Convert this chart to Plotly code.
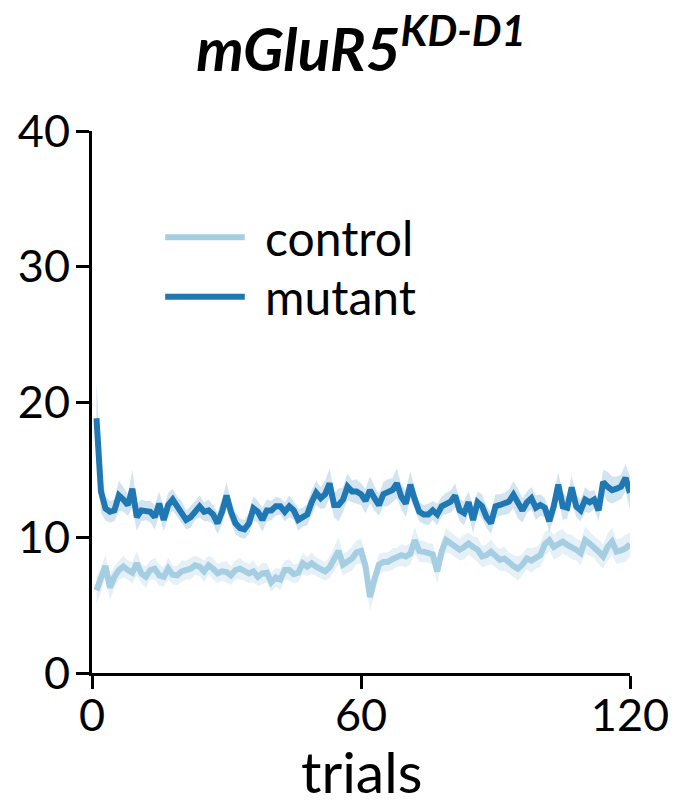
import plotly.graph_objects as go

# Trial numbers
trials = list(range(1, 121))

# Mean values per trial
control_mean = [
    6.1, 6.9, 7.9, 6.3, 7.1, 7.6, 7.85, 7.6, 7.4, 8.1,
    7.35, 7.1, 7.6, 7.7, 7.2, 7.1, 7.7, 7.25, 7.2, 7.5,
    7.6, 7.7, 7.95, 7.85, 7.5, 7.95, 7.7, 7.35, 7.5, 7.45,
    7.2, 7.6, 7.7, 7.5, 7.35, 7.5, 7.1, 7.35, 7.4, 6.7,
    7.05, 6.9, 7.6, 7.6, 7.3, 7.4, 8.1, 7.85, 8.1, 7.85,
    7.7, 7.5, 7.8, 8.4, 9.0, 8.0, 8.2, 8.45, 8.9, 9.0,
    7.9, 5.6, 6.9, 8.0, 8.2, 8.2, 8.4, 8.55, 8.7, 8.6,
    8.8, 9.8, 9.0, 8.95, 8.85, 8.75, 7.5, 9.0, 9.8, 9.6,
    9.35, 9.1, 9.3, 9.55, 9.3, 9.1, 8.6, 8.7, 8.95, 8.6,
    8.35, 8.45, 8.1, 7.9, 7.7, 8.0, 8.45, 8.3, 8.5, 8.7,
    9.5, 9.8, 9.3, 9.5, 9.7, 9.45, 9.3, 9.1, 8.85, 9.8,
    9.55, 9.3, 8.95, 8.6, 9.3, 9.7, 8.95, 9.05, 9.2, 9.5,
]
mutant_mean = [
    18.8, 13.4, 12.15, 11.9, 12.0, 13.1, 12.8, 12.4, 13.6, 11.5,
    12.0, 12.0, 11.9, 11.5, 12.5, 11.3, 12.4, 12.8, 12.3, 11.9,
    11.3, 11.5, 12.0, 12.3, 11.9, 12.0, 11.7, 11.05, 11.9, 13.1,
    11.9, 11.05, 10.7, 10.6, 11.05, 12.15, 11.9, 11.3, 12.0, 12.0,
    12.3, 12.3, 11.9, 12.3, 12.0, 11.3, 11.5, 11.7, 12.6, 13.3,
    12.9, 13.2, 14.0, 12.4, 12.4, 12.8, 13.75, 13.4, 13.4, 13.2,
    12.7, 13.5, 12.9, 12.4, 13.2, 13.3, 13.5, 14.0, 13.0, 12.5,
    13.9, 12.8, 11.9, 11.7, 11.7, 12.0, 11.7, 12.3, 12.5, 12.65,
    13.1, 12.0, 11.8, 12.6, 11.3, 12.6, 12.3, 11.5, 11.05, 12.3,
    12.4, 12.5, 12.65, 13.15, 12.5, 12.0, 12.6, 12.9, 12.2, 12.4,
    12.2, 11.2, 12.3, 13.9, 12.3, 12.2, 13.7, 12.3, 12.0, 12.8,
    12.6, 12.8, 12.0, 14.1, 13.75, 13.5, 13.6, 13.75, 14.4, 13.3,
]

# Standard error per trial
control_sem = [
    1.0, 0.9, 0.8, 0.9, 0.8, 0.7, 0.8, 0.7, 0.8, 0.9,
    0.7, 0.8, 0.7, 0.8, 0.8, 0.7, 0.8, 0.7, 0.7, 0.8,
    0.7, 0.8, 0.7, 0.7, 0.8, 0.7, 0.8, 0.7, 0.7, 0.8,
    0.7, 0.7, 0.8, 0.7, 0.7, 0.8, 0.7, 0.8, 0.7, 0.7,
    0.7, 0.8, 0.7, 0.8, 0.7, 0.7, 0.8, 0.7, 0.8, 0.7,
    0.7, 0.7, 0.8, 0.9, 1.0, 0.8, 0.8, 0.9, 0.9, 0.9,
    0.9, 1.0, 0.9, 0.8, 0.7, 0.7, 0.8, 0.7, 0.8, 0.8,
    0.8, 1.0, 0.8, 0.8, 0.7, 0.8, 0.9, 0.8, 0.9, 0.8,
    0.8, 0.8, 0.9, 0.8, 0.8, 0.9, 0.8, 0.8, 0.9, 0.8,
    0.8, 0.9, 0.8, 0.8, 0.9, 0.8, 0.8, 0.9, 0.8, 0.9,
    0.9, 0.8, 0.9, 1.0, 0.9, 0.8, 0.9, 0.8, 0.9, 1.0,
    0.9, 0.8, 0.9, 0.9, 1.0, 1.0, 0.9, 0.9, 1.0, 0.9,
]
mutant_sem = [
    2.8, 1.6, 0.9, 0.8, 0.8, 1.1, 0.9, 0.8, 1.4, 1.0,
    0.8, 0.7, 0.8, 0.9, 0.9, 0.8, 0.9, 0.8, 0.7, 0.8,
    0.7, 0.8, 0.7, 0.8, 0.7, 0.8, 0.7, 0.8, 0.9, 1.0,
    0.8, 0.8, 0.7, 0.7, 0.8, 0.9, 0.8, 0.9, 0.8, 0.7,
    0.7, 0.6, 0.7, 0.8, 0.7, 0.8, 0.7, 0.8, 0.9, 0.9,
    0.8, 1.0, 1.1, 0.9, 1.2, 0.9, 1.0, 0.8, 0.9, 0.8,
    0.9, 1.0, 0.9, 0.8, 0.9, 1.0, 0.9, 1.1, 0.9, 1.0,
    1.0, 0.8, 0.7, 0.7, 0.8, 0.7, 0.8, 0.7, 0.8, 0.8,
    0.9, 0.8, 0.9, 0.8, 1.0, 0.8, 0.9, 0.8, 0.8, 0.9,
    0.8, 0.8, 0.9, 1.0, 1.1, 0.9, 0.8, 0.8, 0.9, 0.8,
    0.7, 0.8, 0.9, 0.9, 1.0, 0.8, 0.9, 0.8, 0.8, 0.9,
    0.8, 0.7, 0.8, 0.9, 1.1, 1.0, 0.9, 0.9, 1.0, 1.2,
]

x_ticks = [0, 60, 120]
y_ticks = [0, 10, 20, 30, 40]

series = [
    ("control", control_mean, control_sem, "#a6cee3", "rgba(166,206,227,0.28)"),
    ("mutant", mutant_mean, mutant_sem, "#1f78b4", "rgba(31,120,180,0.2)"),
]

FONT = "Lato, Open Sans, sans-serif"

fig = go.Figure()
for name, mean, sem, color, band in series:
    upper = [m + s for m, s in zip(mean, sem)]
    lower = [m - s for m, s in zip(mean, sem)]
    fig.add_trace(go.Scatter(
        x=trials + trials[::-1], y=upper + lower[::-1],
        fill="toself", fillcolor=band, line=dict(width=0),
        hoverinfo="skip", showlegend=False,
    ))
for name, mean, sem, color, band in series:
    fig.add_trace(go.Scatter(
        x=trials, y=mean, mode="lines", name=name,
        line=dict(color=color, width=6), showlegend=False,
    ))

# Hand-drawn legend: long line swatches with labels
legend_rows = [("control", "#a6cee3", 0.804), ("mutant", "#1f78b4", 0.694)]
for label, color, yy in legend_rows:
    fig.add_shape(type="line", xref="paper", yref="paper",
                  x0=0.136, x1=0.284, y0=yy, y1=yy,
                  line=dict(color=color, width=6))
    fig.add_annotation(xref="paper", yref="paper", x=0.318, y=yy,
                       text=label, showarrow=False, xanchor="left",
                       yanchor="middle",
                       font=dict(family=FONT, size=48, color="black"))

# x-axis title placed below the tick labels
fig.add_annotation(xref="paper", yref="paper", x=0.5, y=-0.1808,
                   text="trials", showarrow=False,
                   xanchor="center", yanchor="middle",
                   font=dict(family=FONT, size=57, color="black"))

axis_common = dict(
    showline=True, linecolor="black", linewidth=3,
    ticks="outside", ticklen=13, tickwidth=3, tickcolor="black",
    showgrid=False, zeroline=False, automargin=False,
    tickfont=dict(family=FONT, size=45, color="black"),
)

fig.update_layout(
    width=675, height=804,
    margin=dict(l=92, r=45, t=131, b=131),
    paper_bgcolor="white", plot_bgcolor="white",
    title=dict(
        text="<b><i>mGluR5<sup>KD-D1</sup></i></b>",
        x=0.5, xref="paper", xanchor="center",
        y=0.938, yref="container", yanchor="middle",
        font=dict(family=FONT, size=60, color="black"),
    ),
    xaxis=dict(range=[0, 120], tickvals=x_ticks, ticklabelstandoff=-12,
               **axis_common),
    yaxis=dict(range=[0, 40], tickvals=y_ticks, ticklabelstandoff=-3,
               **axis_common),
)

fig.write_html("out.html")
